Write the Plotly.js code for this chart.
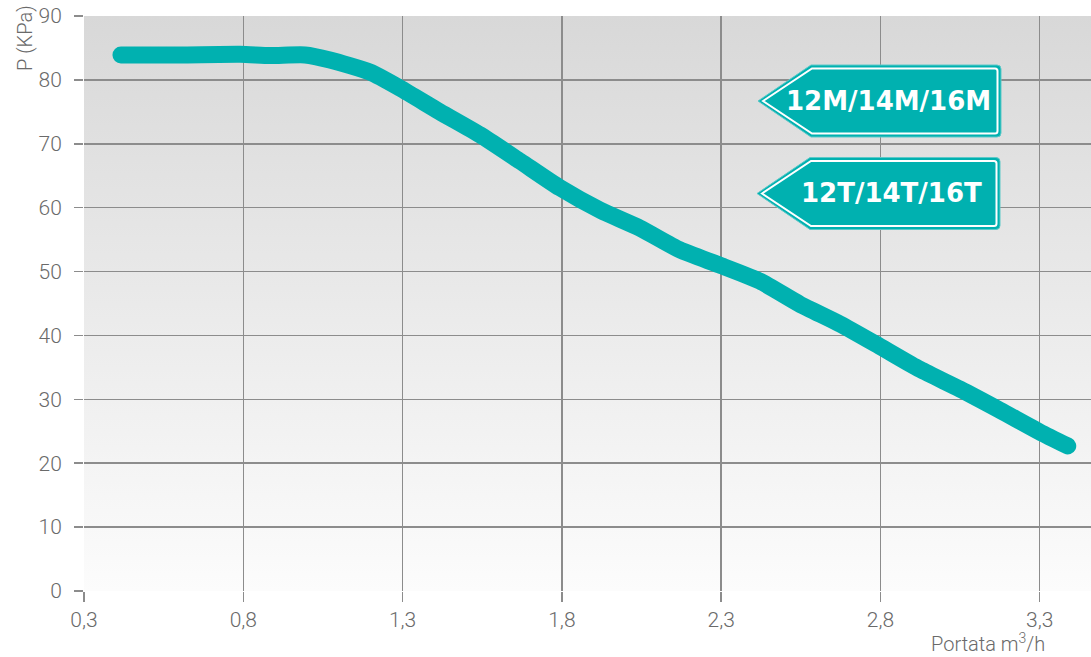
<!DOCTYPE html>
<html>
<head>
<meta charset="utf-8">
<script src="https://cdn.plot.ly/plotly-3.0.1.min.js"></script>
<style>
  html, body { margin: 0; padding: 0; background: #fff; }
  #chart { width: 1091px; height: 657px; }
  .scatterlayer .js-line { stroke-linecap: round; stroke-linejoin: round; }
</style>
</head>
<body>
<div id="chart"></div>
<script>
// ---- data ----
const flow = [0.416, 0.60, 0.79, 0.884, 0.994, 1.072, 1.198, 1.292, 1.417, 1.543, 1.668, 1.794, 1.92, 2.045, 2.17, 2.296, 2.422, 2.547, 2.673, 2.798, 2.924, 3.05, 3.175, 3.30, 3.388];
const pressure = [83.9, 83.9, 84.0, 83.8, 83.9, 83.1, 81.2, 78.7, 75.0, 71.4, 67.3, 63.1, 59.6, 56.8, 53.4, 51.0, 48.5, 44.9, 41.8, 38.3, 34.7, 31.6, 28.3, 24.9, 22.7];
const xTickVals = [0.3, 0.8, 1.3, 1.8, 2.3, 2.8, 3.3];
const xTickText = ["0,3", "0,8", "1,3", "1,8", "2,3", "2,8", "3,3"];
const yTickVals = [0, 10, 20, 30, 40, 50, 60, 70, 80, 90];
const tagLabels = ["12M/14M/16M", "12T/14T/16T"];

// ---- layout geometry ----
const W = 1091, H = 657;
const M = { l: 84, r: 0, t: 16, b: 66 };
const xRange = [0.3, 3.461];
const yRange = [0, 90];
const pw = W - M.l - M.r, ph = H - M.t - M.b;
const px2x = px => xRange[0] + (px - M.l) / pw * (xRange[1] - xRange[0]);
const py2y = py => yRange[0] + (H - M.b - py) / ph * (yRange[1] - yRange[0]);

const teal = '#00b1b0';
const grid = '#8c8c8c';
const txt = '#6a6a6a';
const tickFont = { family: 'Roboto, "Liberation Sans", sans-serif', size: 21, color: txt, weight: 300 };

const gradSvg = '<svg xmlns="http://www.w3.org/2000/svg" width="100" height="100" preserveAspectRatio="none">' +
  '<defs><linearGradient id="g" x1="0" y1="0" x2="0" y2="1">' +
  '<stop offset="0" stop-color="#d8d8d8"/><stop offset="1" stop-color="#fcfcfc"/></linearGradient></defs>' +
  '<rect width="100" height="100" fill="url(#g)"/></svg>';

// tags (pixel-sized shapes anchored at the arrow tip)
const tagAnchors = [[758, 101], [757, 193.5]];
const textCenters = [[888, 101], [891, 193]];
const shapes = [];
const annotations = [];
tagAnchors.forEach((a, i) => {
  const base = { type: 'path', xref: 'x', yref: 'y', xsizemode: 'pixel', ysizemode: 'pixel',
                 xanchor: px2x(a[0]), yanchor: py2y(a[1]), layer: 'above' };
  shapes.push(Object.assign({}, base, {
    path: 'M0,0 L53,36 L239,36 Q243,36 243,32 L243,-32 Q243,-36 239,-36 L53,-36 Z',
    fillcolor: teal, line: { color: '#5cc9c8', width: 1 }
  }));
  shapes.push(Object.assign({}, base, {
    path: 'M5,0 L54,32.5 L237,32.5 Q239.5,32.5 239.5,30 L239.5,-30 Q239.5,-32.5 237,-32.5 L54,-32.5 Z',
    fillcolor: 'rgba(0,0,0,0)', line: { color: '#ffffff', width: 2 }
  }));
  annotations.push({
    xref: 'x', yref: 'y', x: px2x(textCenters[i][0]), y: py2y(textCenters[i][1]),
    text: tagLabels[i], showarrow: false, xanchor: 'center', yanchor: 'middle',
    font: { family: '"DejaVu Sans", sans-serif', size: 26, color: '#ffffff', weight: 700 }
  });
});

annotations.push({
  xref: 'paper', yref: 'paper', x: (1047 - M.l) / pw, y: -(643 - (H - M.b)) / ph,
  xanchor: 'right', yanchor: 'middle', showarrow: false,
  text: 'Portata m<sup>3</sup>/h', font: Object.assign({}, tickFont, { size: 20 })
});
annotations.push({
  xref: 'paper', yref: 'paper', x: -(M.l - 25) / pw, y: 1 - (38 - M.t) / ph,
  xanchor: 'center', yanchor: 'middle', showarrow: false, textangle: -90,
  text: 'P (KPa)', font: Object.assign({}, tickFont, { size: 20 })
});

const trace = {
  x: flow, y: pressure, type: 'scatter', mode: 'lines',
  line: { color: teal, width: 17, shape: 'spline', smoothing: 0.6 },
  hoverinfo: 'skip', cliponaxis: false
};

const layout = {
  width: W, height: H, margin: M,
  paper_bgcolor: '#ffffff', plot_bgcolor: 'rgba(0,0,0,0)',
  showlegend: false,
  xaxis: {
    range: xRange, tickvals: xTickVals, ticktext: xTickText,
    showgrid: true, gridcolor: grid, gridwidth: 1.5, zeroline: false,
    showline: false, ticks: 'outside', ticklen: 10, tickwidth: 1.5, tickcolor: grid,
    tickfont: tickFont, ticklabelstandoff: 0, fixedrange: true
  },
  yaxis: {
    range: yRange, tickvals: yTickVals,
    showgrid: true, gridcolor: grid, gridwidth: 1.5, zeroline: false,
    showline: false, ticks: 'outside', ticklen: 9, tickwidth: 1.5, tickcolor: grid,
    tickfont: tickFont, ticklabelstandoff: 8, fixedrange: true
  },
  images: [{
    source: 'data:image/svg+xml;base64,' + btoa(gradSvg),
    xref: 'paper', yref: 'paper', x: 0, y: 1, sizex: 1, sizey: 1,
    xanchor: 'left', yanchor: 'top', sizing: 'stretch', layer: 'below'
  }],
  shapes: shapes,
  annotations: annotations
};

Plotly.newPlot('chart', [trace], layout, { displayModeBar: false, staticPlot: true });
</script>
</body>
</html>
